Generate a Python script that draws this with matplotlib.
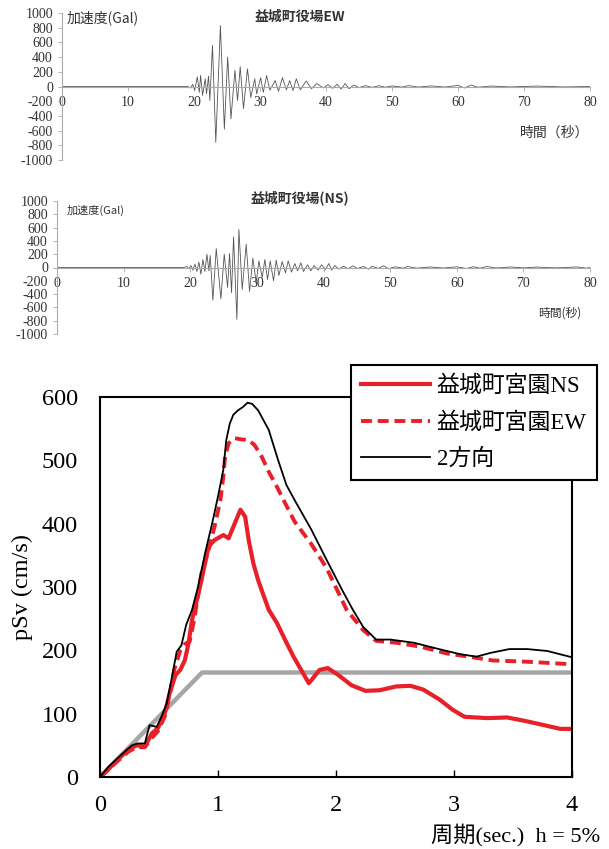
import matplotlib
matplotlib.use("Agg")
import matplotlib.pyplot as plt
from matplotlib.lines import Line2D

plt.rcParams["axes.unicode_minus"] = False

# --- accelerogram, Mashiki town office EW (time [s], acc [Gal]) ---
ew_t = [0, 19, 19.5, 19.8, 20.1, 20.5, 20.8, 21.0, 21.3, 21.7, 21.9, 22.2, 22.4, 22.8,
        23.3, 24.0, 24.6, 25.1, 25.6, 26.2, 26.6, 27.0, 27.5, 28.1, 28.6, 29.2, 29.5,
        30.1, 30.5, 31.0, 31.5, 32.3, 32.8, 33.4, 34.0, 34.5, 35.0, 35.5, 36.1, 37.0,
        37.8, 38.6, 39.6, 40.3, 41.0, 41.7, 42.3, 42.9, 43.5, 44.2, 45, 46, 47, 48, 49,
        50, 51.5, 52.5, 54, 56, 58, 60, 61, 62, 63, 65, 68, 72, 76, 80]
ew_a = [0, 0, -20, 30, -50, 130, -80, 150, -120, 105, -100, 140, -190, 560,
        -760, 830, -580, 400, -440, 220, -190, 270, -300, 240, -150, 105, -100,
        120, -80, 150, -50, 80, -65, 120, -45, 80, -55, 105, -45, 75,
        -30, 40, -20, 25, -25, 30, -35, 40, -30, 20, -15, 12, -12, 10, -10,
        8, -8, 12, -8, 8, -8, 15, -20, 20, -10, 6, -6, 6, -6, 0]

# --- accelerogram, Mashiki town office NS ---
ns_t = [0, 19, 19.5, 19.8, 20.1, 20.4, 20.7, 21.0, 21.3, 21.6, 21.9, 22.2, 22.5, 22.8,
        23.0, 23.4, 23.9, 24.6, 25.1, 25.6, 25.9, 26.2, 26.5, 27.0, 27.3, 27.8, 28.4,
        28.9, 29.4, 29.9, 30.3, 30.8, 31.2, 31.6, 32.0, 32.5, 32.9, 33.3, 33.8, 34.3,
        34.7, 35.2, 35.7, 36.1, 36.6, 37.0, 37.6, 38.1, 38.6, 39.2, 39.7, 40.3, 40.8,
        41.2, 41.7, 42.3, 43.0, 43.7, 44.4, 45.1, 46.0, 46.8, 47.3, 48.2, 49.0, 49.8,
        50.7, 52.0, 52.6, 54, 56, 58, 60, 61.5, 62.5, 63.5, 64.5, 66, 68, 70, 72, 75,
        78, 79.5, 80]
ns_a = [0, 0, 15, -20, 30, -40, 50, -60, 80, -100, 120, -60, 200, -50,
        180, -490, 285, -470, 200, -300, 210, -380, 460, -780, 570, -330, 350,
        -360, 140, -230, 100, -150, 120, -180, 100, -200, 110, -120, 90, -80,
        100, -70, 60, -50, 70, -60, 40, -50, 30, -40, 40, -30, 60,
        -40, 30, -25, 20, -20, 25, -15, 15, -25, 20, -15, 25, -20,
        10, -10, 15, -10, 8, -8, 10, -15, 12, -10, 15, -8, 8, -6, 6, -6,
        8, -10, 0]

# --- pseudo velocity response spectra (period [s], pSv [cm/s]) ---
ns_T = [0, 0.07, 0.13, 0.24, 0.31, 0.38, 0.44, 0.49, 0.55, 0.59, 0.64, 0.68, 0.72, 0.75,
        0.78, 0.82, 0.86, 0.92, 0.97, 1.045, 1.09, 1.13, 1.19, 1.23, 1.26, 1.30, 1.34,
        1.37, 1.43, 1.50, 1.57, 1.64, 1.77, 1.86, 1.93, 2.02, 2.13, 2.25, 2.37, 2.51,
        2.63, 2.74, 2.88, 2.99, 3.09, 3.28, 3.45, 3.59, 3.76, 3.90, 4.0]
ns_sv = [0, 12, 24, 43, 50, 48, 69, 77, 101, 132, 161, 169, 185, 211,
         248, 279, 311, 364, 374, 382, 377, 395, 422, 411, 374, 337, 311,
         295, 264, 243, 216, 190, 148, 169, 172, 161, 145, 136, 137, 143,
         144, 138, 122, 106, 95, 93, 94, 89, 82, 76, 76]

ew_T = [0, 0.07, 0.13, 0.24, 0.31, 0.38, 0.44, 0.49, 0.55, 0.59, 0.63, 0.68, 0.72, 0.76,
        0.80, 0.86, 0.92, 0.97, 1.02, 1.045, 1.06, 1.09, 1.14, 1.20, 1.26, 1.31, 1.37,
        1.43, 1.50, 1.57, 1.65, 1.79, 1.92, 2.09, 2.23, 2.34, 2.51, 2.71, 2.94, 3.16,
        3.33, 3.62, 4.0]
ew_sv = [0, 11, 22, 40, 47, 47, 62, 72, 96, 130, 170, 200, 210, 214,
         250, 322, 358, 395, 437, 474, 506, 527, 535, 533, 532, 524, 506,
         482, 458, 432, 403, 368, 330, 264, 232, 215, 212, 206, 195, 189,
         184, 182, 178]

two_T = [0, 0.07, 0.18, 0.27, 0.32, 0.38, 0.42, 0.48, 0.52, 0.565, 0.61, 0.65, 0.69, 0.73,
         0.78, 0.83, 0.89, 0.95, 1.0, 1.045, 1.07, 1.10, 1.13, 1.17, 1.21, 1.25, 1.29,
         1.34, 1.43, 1.51, 1.58, 1.65, 1.79, 1.92, 2.05, 2.14, 2.23, 2.34, 2.46, 2.66,
         2.85, 3.05, 3.19, 3.31, 3.47, 3.62, 3.79, 4.0]
two_sv = [0, 16, 35, 50, 53, 53, 82, 79, 95, 116, 158, 198, 208, 240,
          264, 300, 353, 400, 443, 485, 532, 558, 572, 579, 584, 591, 589,
          579, 548, 500, 461, 437, 391, 343, 296, 265, 237, 217, 217, 212,
          203, 194, 190, 196, 202, 202, 199, 189]

# design spectrum (grey)
ref_T = [0, 0.865, 4.0]
ref_sv = [0, 165, 165]

W, H = 609, 849


def rect(l, t, r, b):
    return [l / W, 1 - b / H, (r - l) / W, (b - t) / H]


serif = ["Liberation Serif", "Noto Sans CJK JP"]
cjk = ["Noto Sans CJK JP", "DejaVu Sans"]
grey_txt = "#333333"
dash = (0, (2.8, 1.5))

fig = plt.figure(figsize=(W / 100, H / 100), dpi=100)


def wave_panel(box, t, a, title, title_y, ylab, ylab_pos, ylab_size, xlab, xlab_pos, xlab_size):
    ax = fig.add_axes(rect(*box))
    ax.plot(t, a, color="#555555", lw=0.6)
    ax.set_xlim(0, 80)
    ax.set_ylim(-1000, 1000)
    ax.set_xticks(range(0, 81, 10))
    ax.set_yticks(range(-1000, 1001, 200))
    for s in ("top", "right"):
        ax.spines[s].set_visible(False)
    ax.spines["bottom"].set_position(("data", 0))
    ax.spines["bottom"].set_color("#aaaaaa")
    ax.spines["left"].set_color("#aaaaaa")
    ax.tick_params(colors="#aaaaaa", length=3, width=0.6, labelcolor=grey_txt)
    for lab in ax.get_xticklabels() + ax.get_yticklabels():
        lab.set_fontfamily(serif)
        lab.set_fontsize(10)
    ax.patch.set_alpha(0)
    fig.text(300 / W, 1 - title_y / H, title, family=cjk, fontsize=10, weight="bold",
             color=grey_txt, ha="center", va="center")
    fig.text(ylab_pos[0] / W, 1 - ylab_pos[1] / H, ylab, family=cjk, fontsize=ylab_size,
             color=grey_txt, ha="left", va="center")
    fig.text(xlab_pos[0] / W, 1 - xlab_pos[1] / H, xlab, family=cjk, fontsize=xlab_size,
             color=grey_txt, ha="center", va="center")
    return ax


wave_panel((62, 13, 590, 160), ew_t, ew_a, "益城町役場EW", 17,
           "加速度(Gal)", (67, 18), 10, "時間（秒）", (555, 133), 10)
wave_panel((57, 201, 590, 334), ns_t, ns_a, "益城町役場(NS)", 198,
           "加速度(Gal)", (67, 210), 8, "時間(秒)", (560, 313), 8.5)

# response spectrum
ax = fig.add_axes(rect(100, 397, 572, 777))
red = "#e8202a"
ax.plot(ref_T, ref_sv, color="#a6a6a6", lw=3.2, solid_capstyle="butt")
ax.plot(ns_T, ns_sv, color=red, lw=3, solid_joinstyle="round")
ax.plot(ew_T, ew_sv, color=red, lw=2.8, ls=dash)
ax.plot(two_T, two_sv, color="black", lw=1.3)
ax.set_xlim(0, 4)
ax.set_ylim(0, 600)
ax.set_xticks(range(0, 5))
ax.set_yticks(range(0, 601, 100))
for s in ax.spines.values():
    s.set_linewidth(1.5)
ax.tick_params(direction="in", length=5, width=1, pad=13, labelsize=17.5)
ax.tick_params(axis="y", length=0, pad=16)
for lab in ax.get_xticklabels() + ax.get_yticklabels():
    lab.set_fontfamily(serif)
ax.set_ylabel("pSv (cm/s)", family=serif, fontsize=17.5, labelpad=6)
fig.text(600 / W, 1 - 835 / H, "周期(sec.)  h = 5%", family=serif, fontsize=16,
         ha="right", va="center")

handles = [Line2D([], [], color=red, lw=3),
           Line2D([], [], color=red, lw=2.8, ls=dash),
           Line2D([], [], color="black", lw=1.3)]
leg = fig.legend(handles, ["益城町宮園NS", "益城町宮園EW", "2方向"],
                 loc="upper right", bbox_to_anchor=(597 / W, 1 - 365 / H),
                 prop={"family": serif, "size": 16.5}, frameon=True, fancybox=False,
                 handlelength=3.0, handletextpad=0.3, labelspacing=0.65,
                 borderpad=0.45, borderaxespad=0)
leg.get_frame().set_edgecolor("black")
leg.get_frame().set_linewidth(1.5)
leg.get_frame().set_alpha(1)

fig.savefig("out.png", dpi=100)
